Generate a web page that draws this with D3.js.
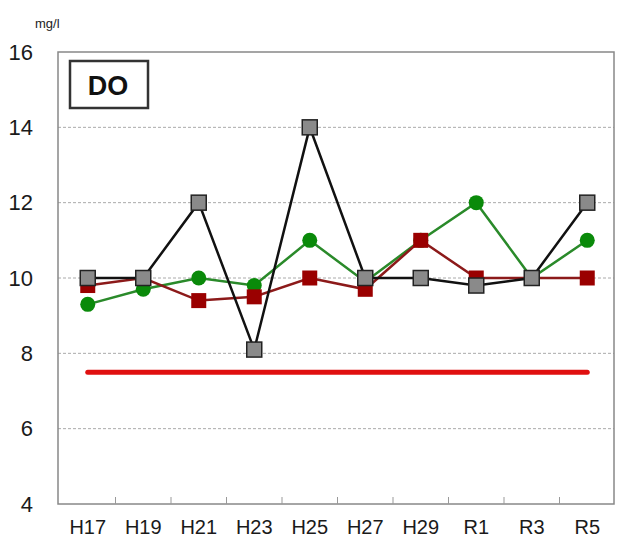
<!DOCTYPE html>
<html>
<head>
<meta charset="utf-8">
<script src="https://cdn.jsdelivr.net/npm/d3@7"></script>
<style>
  body { margin: 0; background: #fff; }
  text { font-family: 'Liberation Sans', Arial, sans-serif; }
</style>
</head>
<body>
<div id="chart"></div>
<script>
// categories and series
let years = ['H17', 'H19', 'H21', 'H23', 'H25', 'H27', 'H29', 'R1', 'R3', 'R5']
let graySeries = [10, 10, 12, 8.1, 14, 10, 10, 9.8, 10, 12]
let greenSeries = [9.3, 9.7, 10, 9.8, 11, 9.9, 11, 12, 10, 11]
let redSeries = [9.8, 10, 9.4, 9.5, 10, 9.7, 11, 10, 10, 10]
let standard = 7.5
let yTicks = [4, 6, 8, 10, 12, 14, 16]

let width = 617
let height = 546
let plot = { left: 58, right: 614, top: 52, bottom: 504 }

let svg = d3
  .select('#chart')
  .append('svg')
  .attr('width', width)
  .attr('height', height)

let x = d3
  .scaleBand()
  .domain(years)
  .range([plot.left + 2, plot.right + 1])

let y = d3
  .scaleLinear()
  .domain([4, 16])
  .range([plot.bottom, plot.top])

let cx = d => x(d) + x.bandwidth() / 2

// gridlines
svg
  .append('g')
  .selectAll('line')
  .data(yTicks.filter(t => t > 4 && t < 16))
  .enter()
  .append('line')
  .attr('x1', plot.left)
  .attr('x2', plot.right)
  .attr('y1', d => y(d))
  .attr('y2', d => y(d))
  .attr('stroke', '#aaa')
  .attr('stroke-width', 1)
  .attr('stroke-dasharray', '3,2')

// plot frame
svg
  .append('rect')
  .attr('x', plot.left)
  .attr('y', plot.top)
  .attr('width', plot.right - plot.left)
  .attr('height', plot.bottom - plot.top)
  .attr('fill', 'none')
  .attr('stroke', '#888')
  .attr('stroke-width', 1.5)

// y axis labels
let yAxis = d3.axisLeft(y).tickValues(yTicks).tickSize(0).tickPadding(25)
svg
  .append('g')
  .attr('transform', 'translate(' + plot.left + ',0)')
  .call(yAxis)
  .call(g => g.select('.domain').remove())
  .selectAll('text')
  .attr('font-size', 22)
  .attr('font-family', "'Liberation Sans', Arial, sans-serif")
  .attr('fill', '#1a1a1a')

// x axis: inward ticks on band boundaries, labels centered
let xAxis = d3.axisBottom(x).tickSize(0).tickPadding(16)
svg
  .append('g')
  .attr('transform', 'translate(0,' + plot.bottom + ')')
  .call(xAxis)
  .call(g => g.select('.domain').remove())
  .selectAll('text')
  .attr('font-size', 20)
  .attr('font-family', "'Liberation Sans', Arial, sans-serif")
  .attr('fill', '#1a1a1a')

svg
  .append('g')
  .selectAll('line')
  .data(years.slice(1))
  .enter()
  .append('line')
  .attr('x1', d => x(d))
  .attr('x2', d => x(d))
  .attr('y1', plot.bottom)
  .attr('y2', plot.bottom - 7)
  .attr('stroke', '#999')

// unit label
svg
  .append('text')
  .attr('x', 35)
  .attr('y', 28)
  .attr('font-size', 13)
  .attr('fill', '#222')
  .text('mg/l')

// DO label box
svg
  .append('rect')
  .attr('x', 70)
  .attr('y', 61)
  .attr('width', 78)
  .attr('height', 47)
  .attr('fill', '#fff')
  .attr('stroke', '#333')
  .attr('stroke-width', 2.5)

svg
  .append('text')
  .attr('x', 108)
  .attr('y', 95)
  .attr('text-anchor', 'middle')
  .attr('font-size', 27)
  .attr('font-weight', 'bold')
  .attr('fill', '#111')
  .text('DO')

// standard line
svg
  .append('line')
  .attr('x1', cx(years[0]))
  .attr('x2', cx(years[years.length - 1]))
  .attr('y1', y(standard))
  .attr('y2', y(standard))
  .attr('stroke', '#e01010')
  .attr('stroke-width', 5)
  .attr('stroke-linecap', 'round')

let line = d3
  .line()
  .x((d, i) => cx(years[i]))
  .y(d => y(d))

function drawSeries (values, lineColor, marker, fill, stroke) {
  svg
    .append('path')
    .datum(values)
    .attr('d', line)
    .attr('fill', 'none')
    .attr('stroke', lineColor)
    .attr('stroke-width', 2.5)

  let g = svg.append('g')
  if (marker === 'circle') {
    g.selectAll('circle')
      .data(values)
      .enter()
      .append('circle')
      .attr('cx', (d, i) => cx(years[i]))
      .attr('cy', d => y(d))
      .attr('r', 7.5)
      .attr('fill', fill)
  } else {
    g.selectAll('rect')
      .data(values)
      .enter()
      .append('rect')
      .attr('x', (d, i) => cx(years[i]) - 7.5)
      .attr('y', d => y(d) - 7.5)
      .attr('width', 15)
      .attr('height', 15)
      .attr('fill', fill)
      .attr('stroke', stroke)
      .attr('stroke-width', stroke === 'none' ? 0 : 1.5)
  }
}

drawSeries(greenSeries, '#2a8a2a', 'circle', '#0a8a0a', 'none')
drawSeries(redSeries, '#8c1a1a', 'square', '#9a0000', 'none')
drawSeries(graySeries, '#111', 'square', '#8a8a8a', '#222')
</script>
</body>
</html>
